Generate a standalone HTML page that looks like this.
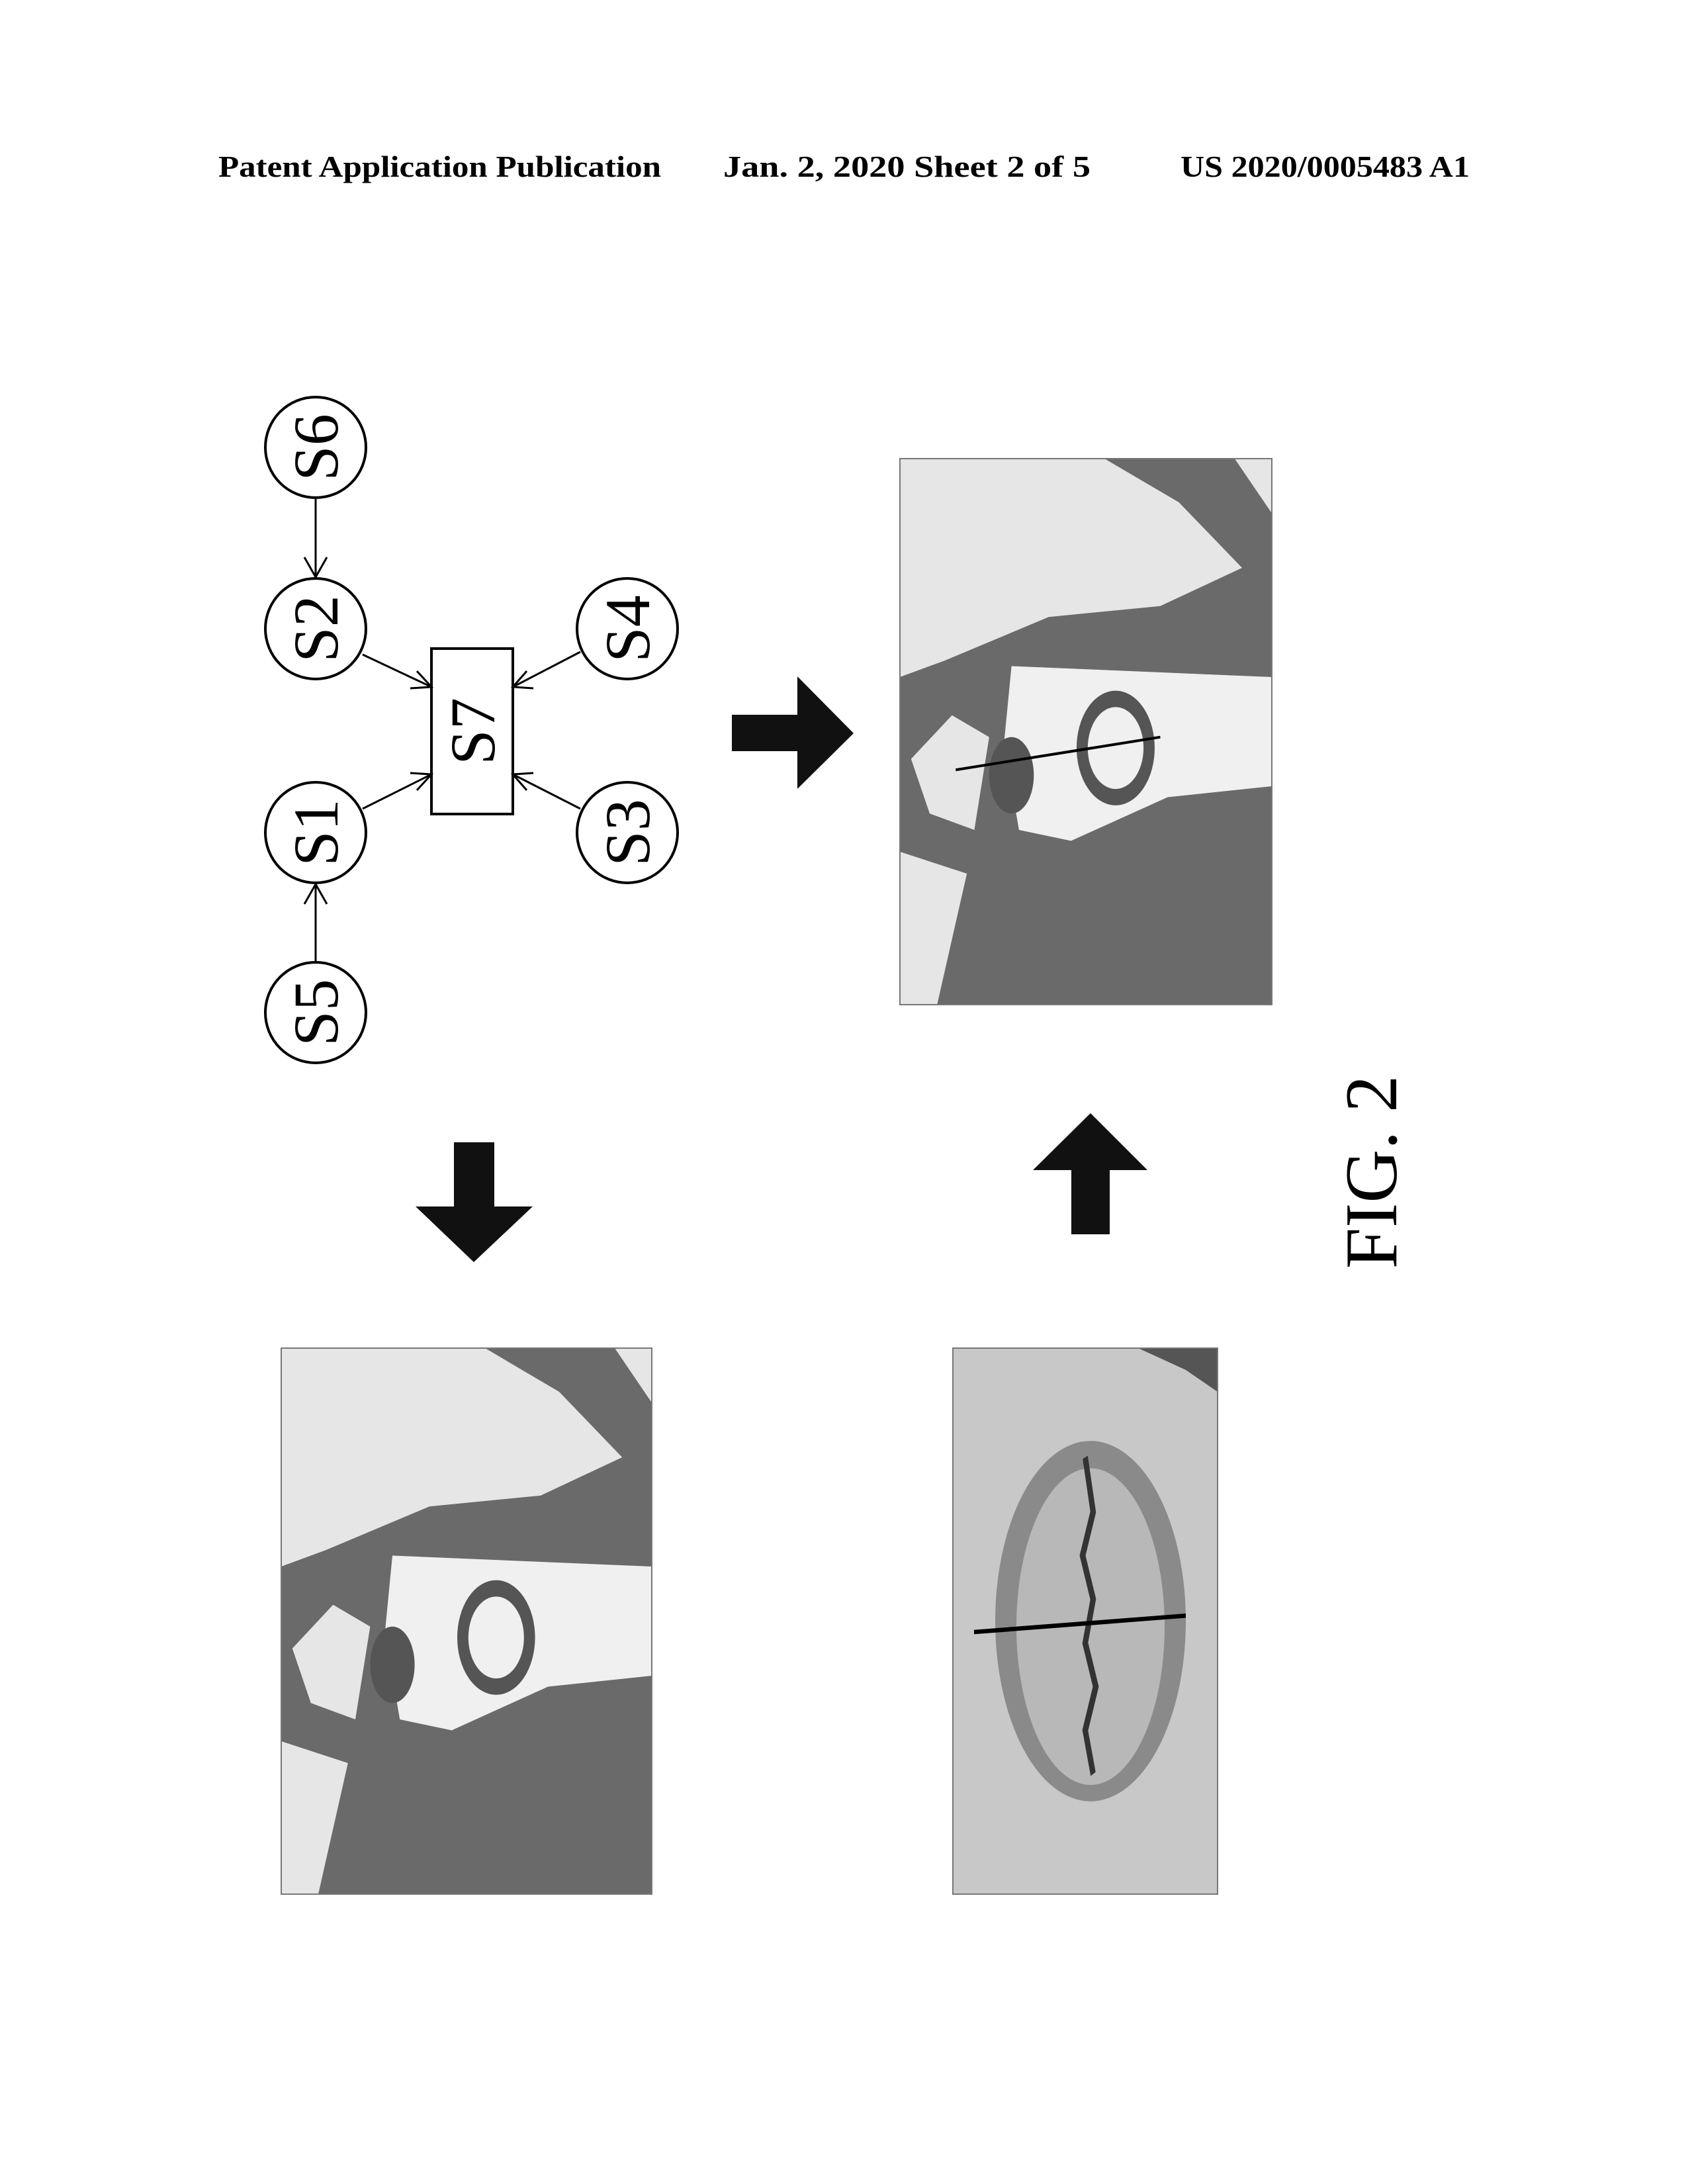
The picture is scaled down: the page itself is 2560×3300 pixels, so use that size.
<!DOCTYPE html>
<html><head><meta charset="utf-8"><style>
html,body{margin:0;padding:0;background:#fff}
body{width:2560px;height:3300px;position:relative;overflow:hidden}
svg{position:absolute;left:0;top:0}
</style></head><body>
<svg width="2560" height="3300" viewBox="0 0 2560 3300" xmlns="http://www.w3.org/2000/svg">
<defs>
<g id="face">
<rect x="0" y="0" width="100" height="100" fill="#6a6a6a"/>
<polygon points="0,0 55,0 75,8 92,20 70,27 40,29 12,37 0,40" fill="#e6e6e6"/>
<polygon points="90,0 100,0 100,10" fill="#e6e6e6"/>
<polygon points="30,38 100,40 100,60 72,62 46,70 32,68 28,52" fill="#f0f0f0"/>
<polygon points="3,55 14,47 24,51 20,68 8,65" fill="#e6e6e6"/>
<polygon points="0,72 18,76 10,100 0,100" fill="#e6e6e6"/>
<ellipse cx="58" cy="53" rx="9" ry="9" fill="none" stroke="#555" stroke-width="3"/>
<ellipse cx="30" cy="58" rx="6" ry="7" fill="#555"/>
</g>
</defs>
<g font-family="Liberation Serif, serif" font-weight="bold" font-size="46" fill="#000">
<text x="330" y="267" textLength="669" lengthAdjust="spacingAndGlyphs">Patent Application Publication</text>
<text x="1093" y="267" textLength="555" lengthAdjust="spacingAndGlyphs">Jan. 2, 2020   Sheet 2 of 5</text>
<text x="1784" y="267" textLength="437" lengthAdjust="spacingAndGlyphs">US 2020/0005483 A1</text>
</g>
<g fill="none" stroke="#000" stroke-width="4">
<circle cx="477" cy="676" r="76"/>
<circle cx="477" cy="950" r="76"/>
<circle cx="477" cy="1258" r="76"/>
<circle cx="477" cy="1530" r="76"/>
<circle cx="948" cy="950" r="76"/>
<circle cx="948" cy="1258" r="76"/>
<rect x="652" y="980" width="123" height="250"/>
</g>
<g stroke="#000" stroke-width="3" fill="none">
<line x1="477" y1="752" x2="477" y2="872"/><polyline points="460,842 477,872 494,842"/>
<line x1="477" y1="1454" x2="477" y2="1336"/><polyline points="460,1366 477,1336 494,1366"/>
<line x1="548" y1="989" x2="652" y2="1038"/><polyline points="620,1040 652,1038 630,1014"/>
<line x1="548" y1="1222" x2="652" y2="1170"/><polyline points="630,1194 652,1170 620,1168"/>
<line x1="877" y1="985" x2="775" y2="1038"/><polyline points="796,1014 775,1038 806,1040"/>
<line x1="877" y1="1222" x2="775" y2="1170"/><polyline points="806,1168 775,1170 796,1194"/>
</g>
<g font-family="Liberation Serif, serif" font-size="96" fill="#000" text-anchor="middle">
<text transform="translate(510,676) rotate(-90)">S6</text>
<text transform="translate(510,950) rotate(-90)">S2</text>
<text transform="translate(510,1258) rotate(-90)">S1</text>
<text transform="translate(510,1530) rotate(-90)">S5</text>
<text transform="translate(981,950) rotate(-90)">S4</text>
<text transform="translate(981,1258) rotate(-90)">S3</text>
<text transform="translate(747,1105) rotate(-90)">S7</text>
<text transform="translate(2110,1771) rotate(-90)" font-size="112">FIG. 2</text>
</g>
<g fill="#111">
<polygon points="1106,1080 1205,1080 1205,1022 1290,1108 1205,1192 1205,1135 1106,1135"/>
<polygon points="686,1726 747,1726 747,1823 805,1823 716,1907 628,1823 686,1823"/>
<polygon points="1619,1865 1677,1865 1677,1768 1734,1768 1648,1682 1561,1768 1619,1768"/>
</g>
<svg x="1360" y="693" width="562" height="825" viewBox="0 0 100 100" preserveAspectRatio="none"><use href="#face"/>
<line x1="15" y1="57" x2="70" y2="51" stroke="#000" stroke-width="0.5"/></svg>
<rect x="1360" y="693" width="562" height="825" fill="none" stroke="#777" stroke-width="2"/>
<svg x="425" y="2037" width="560" height="825" viewBox="0 0 100 100" preserveAspectRatio="none"><use href="#face"/></svg>
<rect x="425" y="2037" width="560" height="825" fill="none" stroke="#777" stroke-width="2"/>
<svg x="1440" y="2037" width="400" height="825" viewBox="0 0 100 100" preserveAspectRatio="none">
<rect width="100" height="100" fill="#c8c8c8"/>
<polygon points="70,0 100,0 100,8 88,4" fill="#555"/>
<ellipse cx="52" cy="50" rx="36" ry="33" fill="#8a8a8a"/>
<ellipse cx="52" cy="51" rx="28" ry="29" fill="#b8b8b8"/>
<polyline points="50,20 53,30 49,38 53,46 50,54 54,62 50,70 53,78" fill="none" stroke="#333" stroke-width="2"/>
<line x1="8" y1="52" x2="88" y2="49" stroke="#000" stroke-width="0.8"/>
</svg>
<rect x="1440" y="2037" width="400" height="825" fill="none" stroke="#777" stroke-width="2"/>
</svg>
</body></html>
